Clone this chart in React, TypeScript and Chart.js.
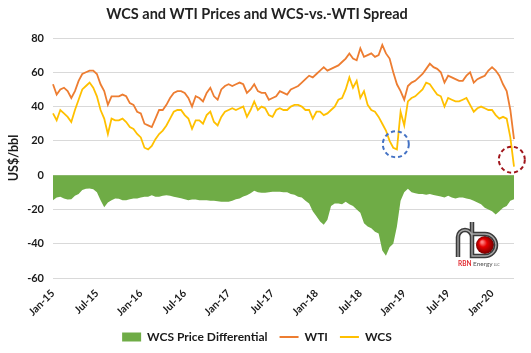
import React, { useEffect, useRef } from 'react';
import { Chart, registerables } from 'chart.js';

Chart.register(...registerables);

const FONT = 'Lato, "Open Sans", sans-serif';

// Semi-monthly observations (1st and 16th of each month), Jan 2015 – Mar 2020, plus Mar 31, 2020
const MONTHS = ['Jan', 'Feb', 'Mar', 'Apr', 'May', 'Jun', 'Jul', 'Aug', 'Sep', 'Oct', 'Nov', 'Dec'];
const categories: string[] = [];
for (let yr = 2015; yr <= 2020; yr++) {
  for (let m = 0; m < 12; m++) {
    if (yr === 2020 && m > 2) break;
    categories.push(`${MONTHS[m]} 1, ${yr}`);
    categories.push(`${MONTHS[m]} 16, ${yr}`);
  }
}
categories.push('Mar 31, 2020');

const tickLabels = ['Jan-15', 'Jul-15', 'Jan-16', 'Jul-16', 'Jan-17', 'Jul-17', 'Jan-18', 'Jul-18', 'Jan-19', 'Jul-19', 'Jan-20'];

// WTI, US$/bbl
const wti = [
  53, 47, 50, 51, 49, 45, 49, 55, 59, 60, 61, 61, 59, 53, 49, 41, 46, 46, 46, 47, 46, 42, 41, 37,
  36, 30, 29, 28, 33, 38, 38, 41, 45, 48, 49, 49, 48, 45, 40, 46, 45, 43, 48, 51, 46, 44, 50, 52,
  53, 52, 53, 54, 53, 48, 50, 53, 49, 48, 48, 44, 45, 46, 49, 48, 47, 50, 51, 52, 54, 56, 58, 57,
  59, 61, 63, 61, 62, 63, 64, 66, 68, 71, 68, 67, 74, 69, 70, 71, 69, 70, 76, 71, 68, 60, 53, 49,
  44, 52, 54, 55, 57, 59, 62, 65, 63, 62, 60, 54, 58, 57, 56, 55, 55, 58, 60, 54, 56, 57, 58, 61,
  63, 61, 58, 53, 49, 38, 21,
];

// WCS, US$/bbl
const wcs = [
  36, 32, 38, 36, 34, 31, 38, 44, 50, 52, 54, 51, 46, 38, 33, 24, 33, 32, 32, 33, 31, 28, 27, 24,
  22, 16, 15, 17, 21, 24, 26, 29, 33, 37, 38, 38, 35, 33, 27, 32, 32, 30, 35, 37, 31, 29, 34, 37,
  38, 39, 38, 39, 40, 34, 38, 43, 38, 40, 39, 35, 34, 38, 39, 38, 38, 40, 41, 41, 40, 38, 38, 33,
  37, 37, 35, 36, 38, 40, 44, 45, 50, 57, 51, 55, 45, 49, 41, 38, 37, 34, 30, 26, 20, 16, 15, 37,
  29, 43, 45, 46, 48, 50, 54, 53, 50, 47, 46, 40, 45, 44, 43, 43, 44, 45, 41, 37, 39, 40, 39, 38,
  38, 35, 33, 34, 33, 22, 5,
];

// WCS price differential (WCS minus WTI), US$/bbl
const spread = [
  -14.6, -13, -12.6, -13.6, -14.2, -14, -12, -11, -8.7, -8, -7.8, -8.2, -10, -14.6, -18.8, -16, -14.6, -13.6, -13.8, -14.6, -14.6, -14, -13.6, -13.6,
  -13, -12.6, -12.6, -11.7, -12.6, -12.6, -12, -11.7, -12, -12.6, -13, -13.5, -14, -14.6, -14.2, -14.2, -14.6, -14.6, -14.6, -15, -15, -15.3, -15.5, -15.5,
  -15.5, -15, -14, -13.6, -12.5, -11.7, -10.5, -9.1, -10, -10.3, -10.3, -10, -9.7, -9.7, -9.7, -10, -10, -11, -11.5, -12.6, -13, -15, -16.5, -21,
  -24, -27, -29, -26, -18, -16.5, -16.5, -17, -15.5, -17, -18, -20, -22, -28, -30, -31, -33, -34, -44, -47, -42, -40, -30, -15,
  -10, -8, -10, -10.5, -11, -11, -11.5, -11, -11.6, -12, -12.5, -13, -12, -13, -13.6, -13, -13, -13.6, -14, -15, -16, -17, -19, -20,
  -21, -23, -21, -19, -18, -15, -14,
];

// Highlighted points (category index, value) circled in the original
const circleMarks = [
  { index: 93.7, value: 18, color: '#4472C4' },
  { index: 125.4, value: 9, color: '#A0151B' },
];

const circlesPlugin = {
  id: 'circles',
  afterDatasetsDraw(chart: any) {
    const { ctx, scales } = chart;
    ctx.save();
    ctx.lineWidth = 2;
    ctx.setLineDash([4, 3]);
    circleMarks.forEach((c) => {
      ctx.strokeStyle = c.color;
      ctx.beginPath();
      ctx.arc(scales.x.getPixelForValue(c.index), scales.y.getPixelForValue(c.value), 13, 0, Math.PI * 2);
      ctx.stroke();
    });
    ctx.restore();
  },
};

const logoPlugin = {
  id: 'logo',
  afterDraw(chart: any) {
    const { ctx, chartArea } = chart;
    const ox = chartArea.right - 29;
    const oy = chartArea.bottom - 33;
    ctx.save();
    const path = () => {
      ctx.beginPath();
      ctx.moveTo(ox - 27, oy + 12);
      ctx.lineTo(ox - 27, oy - 8);
      ctx.arc(ox - 20, oy - 8, 7, Math.PI, 0);
      ctx.moveTo(ox - 13, oy - 23);
      ctx.lineTo(ox - 13, oy + 11);
      ctx.lineTo(ox, oy + 11);
      ctx.arc(ox, oy, 11, Math.PI / 2, -Math.PI / 2, true);
      ctx.lineTo(ox - 13, oy - 11);
    };
    const g = ctx.createRadialGradient(ox - 3, oy - 3, 1, ox, oy, 9.5);
    g.addColorStop(0, '#ff8080');
    g.addColorStop(0.35, '#e80000');
    g.addColorStop(1, '#6e0000');
    ctx.fillStyle = g;
    ctx.beginPath();
    ctx.arc(ox, oy, 9, 0, Math.PI * 2);
    ctx.fill();
    path();
    ctx.strokeStyle = '#3a3a3a';
    ctx.lineWidth = 4.5;
    ctx.stroke();
    path();
    ctx.strokeStyle = '#a8a8a8';
    ctx.lineWidth = 1.3;
    ctx.stroke();
    ctx.textBaseline = 'middle';
    ctx.font = `bold 6.5px ${FONT}`;
    let tx = ox - 27;
    const ty = oy + 19;
    ctx.fillStyle = '#e2282e';
    ctx.fillText('RBN', tx, ty);
    tx += ctx.measureText('RBN').width + 1.5;
    ctx.fillStyle = '#555555';
    ctx.font = `6.5px ${FONT}`;
    ctx.fillText('Energy', tx, ty);
    tx += ctx.measureText('Energy').width + 1;
    ctx.font = `3.5px ${FONT}`;
    ctx.fillText('LLC', tx, ty + 1);
    ctx.restore();
  },
};

export default function App() {
  const ref = useRef<HTMLCanvasElement | null>(null);

  useEffect(() => {
    document.body.style.margin = '0';
    if (!ref.current) return;
    const chart = new Chart(ref.current, {
      type: 'line',
      data: {
        labels: categories,
        datasets: [
          {
            label: 'WCS Price Differential',
            data: spread,
            fill: 'origin',
            backgroundColor: '#6FAC46',
            borderColor: 'rgba(0,0,0,0)',
            borderWidth: 0,
            pointRadius: 0,
            pointStyle: 'rect',
            pointBackgroundColor: '#6FAC46',
            pointBorderWidth: 0,
            tension: 0,
          },
          {
            label: 'WTI',
            data: wti,
            fill: false,
            borderColor: '#ED7D31',
            backgroundColor: '#ED7D31',
            borderWidth: 1.8,
            pointRadius: 0,
            pointStyle: 'line',
            pointBorderColor: '#ED7D31',
            pointBorderWidth: 2,
            tension: 0,
          },
          {
            label: 'WCS',
            data: wcs,
            fill: false,
            borderColor: '#FFC000',
            backgroundColor: '#FFC000',
            borderWidth: 1.8,
            pointRadius: 0,
            pointStyle: 'line',
            pointBorderColor: '#FFC000',
            pointBorderWidth: 2,
            tension: 0,
          },
        ],
      },
      options: {
        animation: false,
        responsive: false,
        devicePixelRatio: 1,
        layout: { padding: { left: 0, right: 17, top: 0, bottom: 0 } },
        plugins: {
          title: {
            display: true,
            text: 'WCS and WTI Prices and WCS-vs.-WTI Spread',
            color: '#222222',
            font: { family: FONT, size: 14.5, weight: 'bold' },
            padding: { top: 6, bottom: 14.6 },
          },
          legend: {
            position: 'bottom',
            labels: {
              usePointStyle: true,
              pointStyleWidth: 19,
              boxHeight: 9,
              padding: 12,
              color: '#1a1a1a',
              font: { family: FONT, size: 12, weight: 'bold' },
            },
          },
          tooltip: { enabled: false },
        },
        scales: {
          x: {
            type: 'category',
            grid: { display: false, drawTicks: false },
            border: { display: false },
            ticks: {
              autoSkip: false,
              minRotation: 45,
              maxRotation: 45,
              padding: 9,
              color: '#1a1a1a',
              font: { family: FONT, size: 10.5, weight: 'bold' },
              callback: (_v: any, i: number) => (i % 12 === 0 ? tickLabels[i / 12] : null),
            },
            afterFit: (s: any) => {
              s.height = 41;
            },
          },
          y: {
            min: -60,
            max: 80,
            ticks: {
              stepSize: 20,
              padding: 9,
              color: '#1a1a1a',
              font: { family: FONT, size: 11, weight: 'bold' },
              callback: (v: any) => String(v),
            },
            grid: { color: '#D9D9D9', lineWidth: 1, drawTicks: false },
            border: { display: false },
            title: {
              display: true,
              text: 'US$/bbl',
              color: '#1a1a1a',
              font: { family: FONT, size: 12.5, weight: 'bold' },
              padding: { top: 6, bottom: 0 },
            },
            afterFit: (s: any) => {
              s.width = 53;
            },
          },
        },
      } as any,
      plugins: [circlesPlugin, logoPlugin],
    });
    return () => chart.destroy();
  }, []);

  return (
    <div style={{ width: 531, height: 353 }}>
      <canvas ref={ref} width={531} height={353} style={{ display: 'block' }} />
    </div>
  );
}
